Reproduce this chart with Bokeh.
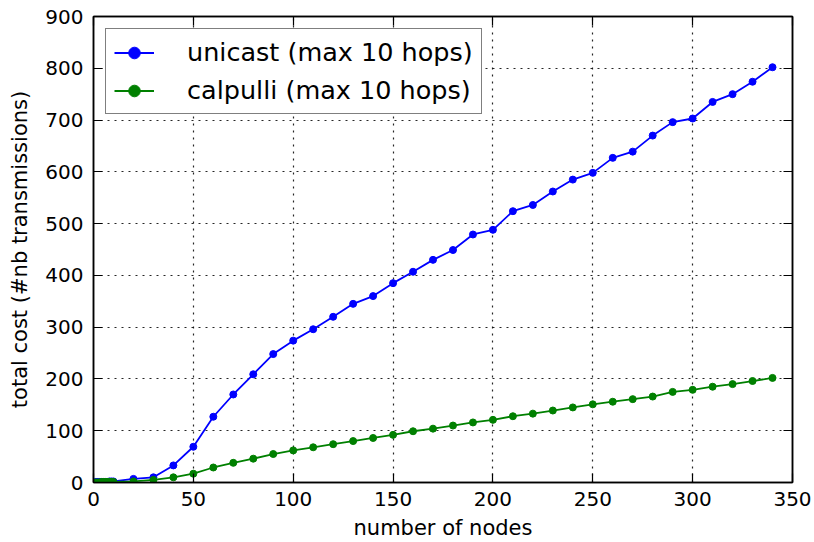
from bokeh.plotting import figure
from bokeh.models import LinearAxis, FixedTicker, Range1d
from bokeh.embed import file_html
from bokeh.resources import INLINE

# ---- data ----
nodes = list(range(1, 11)) + list(range(20, 350, 10))
unicast = [1, 1, 1, 1, 1, 1, 1, 2, 2, 2,
           7, 10, 33, 69, 127, 170, 209, 248, 274, 296, 320, 345, 360, 385, 407,
           430, 449, 479, 488, 524, 536, 562, 585, 598, 627, 639, 670, 696, 703,
           735, 750, 774, 802]
calpulli = [0, 0, 0, 1, 1, 1, 1, 1, 1, 1,
            2, 5, 10, 17, 29, 38, 46, 55, 62, 68, 74, 80, 86, 92, 99,
            104, 110, 116, 121, 128, 133, 139, 145, 151, 156, 161, 166, 175, 179,
            185, 190, 196, 202]
x_ticks = [0, 50, 100, 150, 200, 250, 300, 350]
y_ticks = [0, 100, 200, 300, 400, 500, 600, 700, 800, 900]
x_label = "number of nodes"
y_label = "total cost (#nb transmissions)"
label_unicast = "unicast (max 10 hops)"
label_calpulli = "calpulli (max 10 hops)"

FONT = "DejaVu Sans"

p = figure(width=814, height=542, output_backend="svg", toolbar_location=None,
           x_range=Range1d(0, 350), y_range=Range1d(0, 900),
           min_border_left=93, min_border_right=22, min_border_top=16,
           min_border_bottom=59)
p.background_fill_color = "white"
p.border_fill_color = "white"
p.outline_line_color = "black"
p.outline_line_width = 1.5

# grid
p.grid.grid_line_color = "black"
p.grid.grid_line_dash = "2 5"
p.grid.grid_line_width = 1.2
p.grid.grid_line_alpha = 0.85

def style_axis(ax, ticks, show_labels=True):
    ax.ticker = FixedTicker(ticks=ticks, minor_ticks=[])
    ax.major_tick_in = 9
    ax.major_tick_out = 0
    ax.minor_tick_in = 0
    ax.minor_tick_out = 0
    ax.major_tick_line_color = "black"
    ax.major_tick_line_width = 1.2
    ax.axis_line_color = "black"
    ax.axis_line_width = 1.5
    ax.major_label_text_font = FONT
    ax.major_label_text_color = "black"
    if show_labels:
        ax.major_label_text_font_size = "20px"
    else:
        ax.major_label_overrides = {t: "" for t in ticks}
        ax.major_label_text_font_size = "1px"
        ax.major_label_standoff = 0

style_axis(p.xaxis[0], x_ticks)
style_axis(p.yaxis[0], y_ticks)
p.xaxis.major_label_standoff = 9
p.yaxis.major_label_standoff = 10
p.xaxis.axis_label = x_label
p.yaxis.axis_label = y_label
for ax in (p.xaxis[0], p.yaxis[0]):
    ax.axis_label_text_font = FONT
    ax.axis_label_text_font_size = "21px"
    ax.axis_label_text_font_style = "normal"
    ax.axis_label_text_color = "black"
p.xaxis.axis_label_standoff = 7
p.yaxis.axis_label_standoff = 10

top_axis = LinearAxis()
style_axis(top_axis, x_ticks, show_labels=False)
p.add_layout(top_axis, "above")
right_axis = LinearAxis()
style_axis(right_axis, y_ticks, show_labels=False)
p.add_layout(right_axis, "right")

# series
p.line(nodes, unicast, line_color="#0000ff", line_width=1.8, legend_label=label_unicast)
p.scatter(nodes, unicast, marker="circle", size=7, fill_color="#0000ff",
          line_color="#0000ff", legend_label=label_unicast)
p.line(nodes, calpulli, line_color="#008000", line_width=1.8, legend_label=label_calpulli)
p.scatter(nodes, calpulli, marker="circle", size=7, fill_color="#008000",
          line_color="#008000", legend_label=label_calpulli)

lg = p.legend[0]
lg.location = "top_left"
lg.margin = 12
lg.padding = 8
lg.spacing = 8
lg.glyph_height = 29
lg.label_height = 29
lg.glyph_width = 40
lg.label_standoff = 33
lg.label_text_font = FONT
lg.label_text_font_size = "25.5px"
lg.label_text_color = "black"
lg.border_line_color = "black"
lg.border_line_width = 1.5
lg.background_fill_color = "white"
lg.background_fill_alpha = 1.0

open("out.html", "w").write(file_html(p, INLINE))
